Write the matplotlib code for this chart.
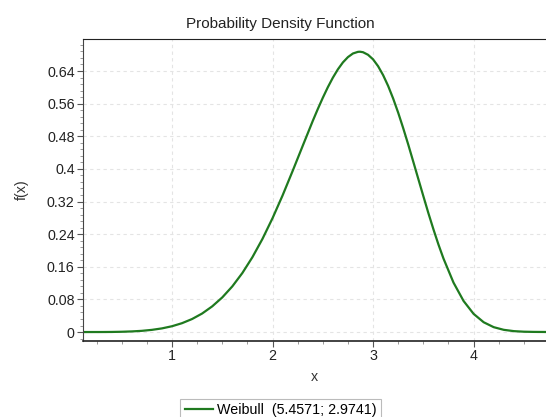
import matplotlib
matplotlib.use("Agg")
import matplotlib.pyplot as plt
from matplotlib.ticker import MultipleLocator, FixedLocator

plt.rcParams['font.family'] = ['Liberation Sans', 'DejaVu Sans']

# values
x_vals = [0.12, 0.2, 0.3, 0.4, 0.5, 0.6, 0.7, 0.8, 0.9, 1.0, 1.1, 1.2, 1.3, 1.4,
          1.5, 1.6, 1.7, 1.8, 1.9, 2.0, 2.1, 2.2, 2.3, 2.4, 2.45, 2.5, 2.55, 2.6,
          2.65, 2.7, 2.75, 2.8, 2.85, 2.87, 2.9, 2.95, 3.0, 3.05, 3.1, 3.15, 3.2,
          3.25, 3.3, 3.35, 3.4, 3.45, 3.5, 3.55, 3.6, 3.65, 3.7, 3.8, 3.9, 4.0,
          4.1, 4.2, 4.3, 4.4, 4.5, 4.6, 4.72]
f_vals = [0.0, 0.0, 0.00002, 0.0002, 0.00065, 0.0015, 0.0029, 0.0053, 0.0089, 0.0142,
          0.0217, 0.0319, 0.0454, 0.0629, 0.0848, 0.1119, 0.1447, 0.1835, 0.2284,
          0.2791, 0.3349, 0.3949, 0.4564, 0.5175, 0.5466, 0.5743, 0.6002, 0.6236,
          0.6441, 0.6611, 0.6741, 0.6830, 0.6870, 0.6873, 0.6861, 0.6798, 0.6686,
          0.6518, 0.6299, 0.6034, 0.5724, 0.5377, 0.4997, 0.4596, 0.4176, 0.3754,
          0.3333, 0.2917, 0.2522, 0.2148, 0.1804, 0.1212, 0.0762, 0.0445, 0.0240,
          0.0119, 0.0054, 0.0022, 0.0008, 0.0003, 0.0001]
series_label = "Weibull  (5.4571; 2.9741)"
x_ticks = [1, 2, 3, 4]
y_ticks = [0, 0.08, 0.16, 0.24, 0.32, 0.4, 0.48, 0.56, 0.64]
y_tick_labels = ["0", "0.08", "0.16", "0.24", "0.32", "0.4", "0.48", "0.56", "0.64"]

fig = plt.figure(figsize=(5.46, 4.17), dpi=100)
ax = fig.add_axes([83/546, 1-341/417, 1-83/546, (341-39)/417])

line, = ax.plot(x_vals, f_vals, color='#1f7a1f', lw=1.6, label=series_label,
                solid_joinstyle='round')

ax.set_xlim(0.115, 4.72)
ax.set_ylim(-0.022, 0.7185)
ax.xaxis.set_major_locator(FixedLocator(x_ticks))
ax.xaxis.set_minor_locator(MultipleLocator(0.25))
ax.set_yticks(y_ticks)
ax.set_yticklabels(y_tick_labels)
ax.yaxis.set_minor_locator(MultipleLocator(0.016))

ax.tick_params(axis='both', which='major', direction='out', length=4, width=0.8,
               labelsize=10.3, color='#555555', labelcolor='#222222', pad=2)
ax.tick_params(axis='both', which='minor', direction='out', length=2, width=0.6,
               color='#888888')

ax.grid(True, which='major', color='#e4e4e4', linestyle=(0, (3, 3)), linewidth=0.8)
ax.set_axisbelow(True)

ax.spines['right'].set_visible(False)
ax.spines['top'].set_color('#222222')
ax.spines['left'].set_color('#444444')
ax.spines['bottom'].set_color('#222222')
ax.spines['bottom'].set_linewidth(1.2)

fig.text(0.513, 1-24/417, "Probability Density Function", fontsize=11,
         color='#222222', ha='center', va='center')
ax.set_xlabel("x", fontsize=10.3, color='#333333', labelpad=5)
ax.set_ylabel("f(x)", fontsize=10.3, color='#333333', labelpad=13)

leg = fig.legend(handles=[line], loc='upper center', bbox_to_anchor=(0.514, 1-399/417),
                 frameon=True, fancybox=False, fontsize=10.3, handlelength=2.0,
                 handletextpad=0.25, borderpad=0.3, borderaxespad=0)
leg.get_frame().set_edgecolor('#aaaaaa')
leg.get_frame().set_linewidth(0.8)

fig.savefig("out.png", dpi=100)
